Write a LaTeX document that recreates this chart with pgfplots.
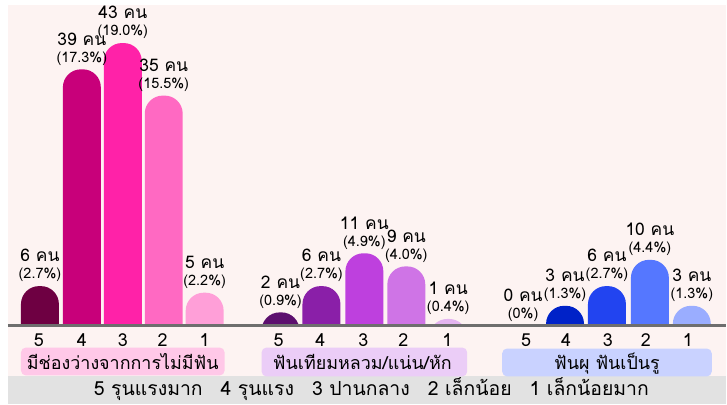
\documentclass[border=0pt]{standalone}
\usepackage{pgfplots}
\pgfplotsset{compat=1.18}
\usepackage{fontspec}
\setmainfont{Loma}[Script=Thai]
\newcommand\fs[2]{\fontsize{#1}{#2}\selectfont}
\definecolor{bgpink}{HTML}{FDF3F2}
\definecolor{band}{HTML}{E2E2E2}
\definecolor{axgray}{HTML}{6E6E6E}
\definecolor{pA}{HTML}{6E0042}
\definecolor{pB}{HTML}{C8007A}
\definecolor{pC}{HTML}{FF22A8}
\definecolor{pD}{HTML}{FF69C2}
\definecolor{pE}{HTML}{FF9FD8}
\definecolor{vA}{HTML}{5C0F6E}
\definecolor{vB}{HTML}{8A1FA8}
\definecolor{vC}{HTML}{BE40DE}
\definecolor{vD}{HTML}{CF74E6}
\definecolor{vE}{HTML}{E4B4F0}
\definecolor{bB}{HTML}{0022C8}
\definecolor{bC}{HTML}{2244F0}
\definecolor{bD}{HTML}{5577FF}
\definecolor{bE}{HTML}{9AADFF}
\definecolor{boxP}{HTML}{FFC8E8}
\definecolor{boxV}{HTML}{EBCDF7}
\definecolor{boxB}{HTML}{C9D2FF}
\newcommand\onebar[4]{\addplot[ybar, bar width=38bp, bar shift=0pt, fill=#1, draw=none, rounded corners=18bp,
  nodes near coords={#3 คน\\{\fs{14.5}{16}(#4\%)}}] coordinates {(#2,#3)};}
\begin{document}
\begin{tikzpicture}
% background layer
\begin{axis}[at={(0,0)}, anchor=south west, scale only axis, width=727bp, height=405bp,
  xmin=0, xmax=727, ymin=0, ymax=405, y dir=reverse, hide axis, clip=false]
\fill[bgpink] (axis cs:8,5) rectangle (axis cs:727,377);
\fill[band] (axis cs:8,377) rectangle (axis cs:727,405);
\end{axis}
% bars: value 0 sits 6 units above the axis bottom; the part below the baseline is covered
\begin{axis}[at={(0,39.52bp)}, anchor=south west, scale only axis, width=727bp, height=365.48bp,
  xmin=0, xmax=727, ymin=0, ymax=55.54, y filter/.expression={y+6},
  hide axis, clip=false,
  every node near coord/.append style={align=center, anchor=south, inner sep=1bp, yshift=3bp, text=black, font=\fs{17.5}{17}}]
\onebar{pA}{40}{6}{2.7}
\onebar{pB}{82}{39}{17.3}
\onebar{pC}{123}{43}{19.0}
\onebar{pD}{164}{35}{15.5}
\onebar{pE}{205}{5}{2.2}
\onebar{vA}{281}{2}{0.9}
\onebar{vB}{322}{6}{2.7}
\onebar{vC}{365}{11}{4.9}
\onebar{vD}{407}{9}{4.0}
\onebar{vE}{449}{1}{0.4}
\onebar{bB}{524}{0}{0}
\onebar{bB}{566}{3}{1.3}
\onebar{bC}{608}{6}{2.7}
\onebar{bD}{651}{10}{4.4}
\onebar{bE}{693}{3}{1.3}
\end{axis}
% overlay: area below the baseline, category boxes, tick labels, legend
\begin{axis}[at={(0,0)}, anchor=south west, scale only axis, width=727bp, height=405bp,
  xmin=0, xmax=727, ymin=0, ymax=405, y dir=reverse, clip=false, axis on top,
  axis line style={draw=none}, ytick=\empty, major tick length=0pt,
  xtick={39,82,123,163,205,279,321,364,404,448,527,567,609,647,689},
  xticklabels={5,4,3,2,1,5,4,3,2,1,5,4,3,2,1},
  xticklabel style={anchor=center, yshift=64bp, font=\fs{18}{18}}]
\fill[bgpink] (axis cs:8,326) rectangle (axis cs:727,377);
\draw[axgray, line width=2.5bp] (axis cs:8,326) -- (axis cs:727,326);
\fill[boxP, rounded corners=5bp] (axis cs:21,348) rectangle (axis cs:225,376);
\fill[boxV, rounded corners=5bp] (axis cs:262,348) rectangle (axis cs:468,377);
\fill[boxB, rounded corners=5bp] (axis cs:503,349) rectangle (axis cs:713,377);
\node[anchor=base, inner sep=0] at (axis cs:123,370) {\fs{18}{18}มีช่องว่างจากการไม่มีฟัน};
\node[anchor=base, inner sep=0] at (axis cs:363,370) {\fs{18}{18}ฟันเทียมหลวม/แน่น/หัก};
\node[anchor=base, inner sep=0] at (axis cs:608,370) {\fs{18}{18}ฟันผุ ฟันเป็นรู};
\node[anchor=base, inner sep=0] at (axis cs:372,396) {\fs{19.5}{19.5}5 รุนแรงมาก\hspace{18bp}4 รุนแรง\hspace{18bp}3 ปานกลาง\hspace{18bp}2 เล็กน้อย\hspace{18bp}1 เล็กน้อยมาก};
\end{axis}
\end{tikzpicture}
\end{document}
